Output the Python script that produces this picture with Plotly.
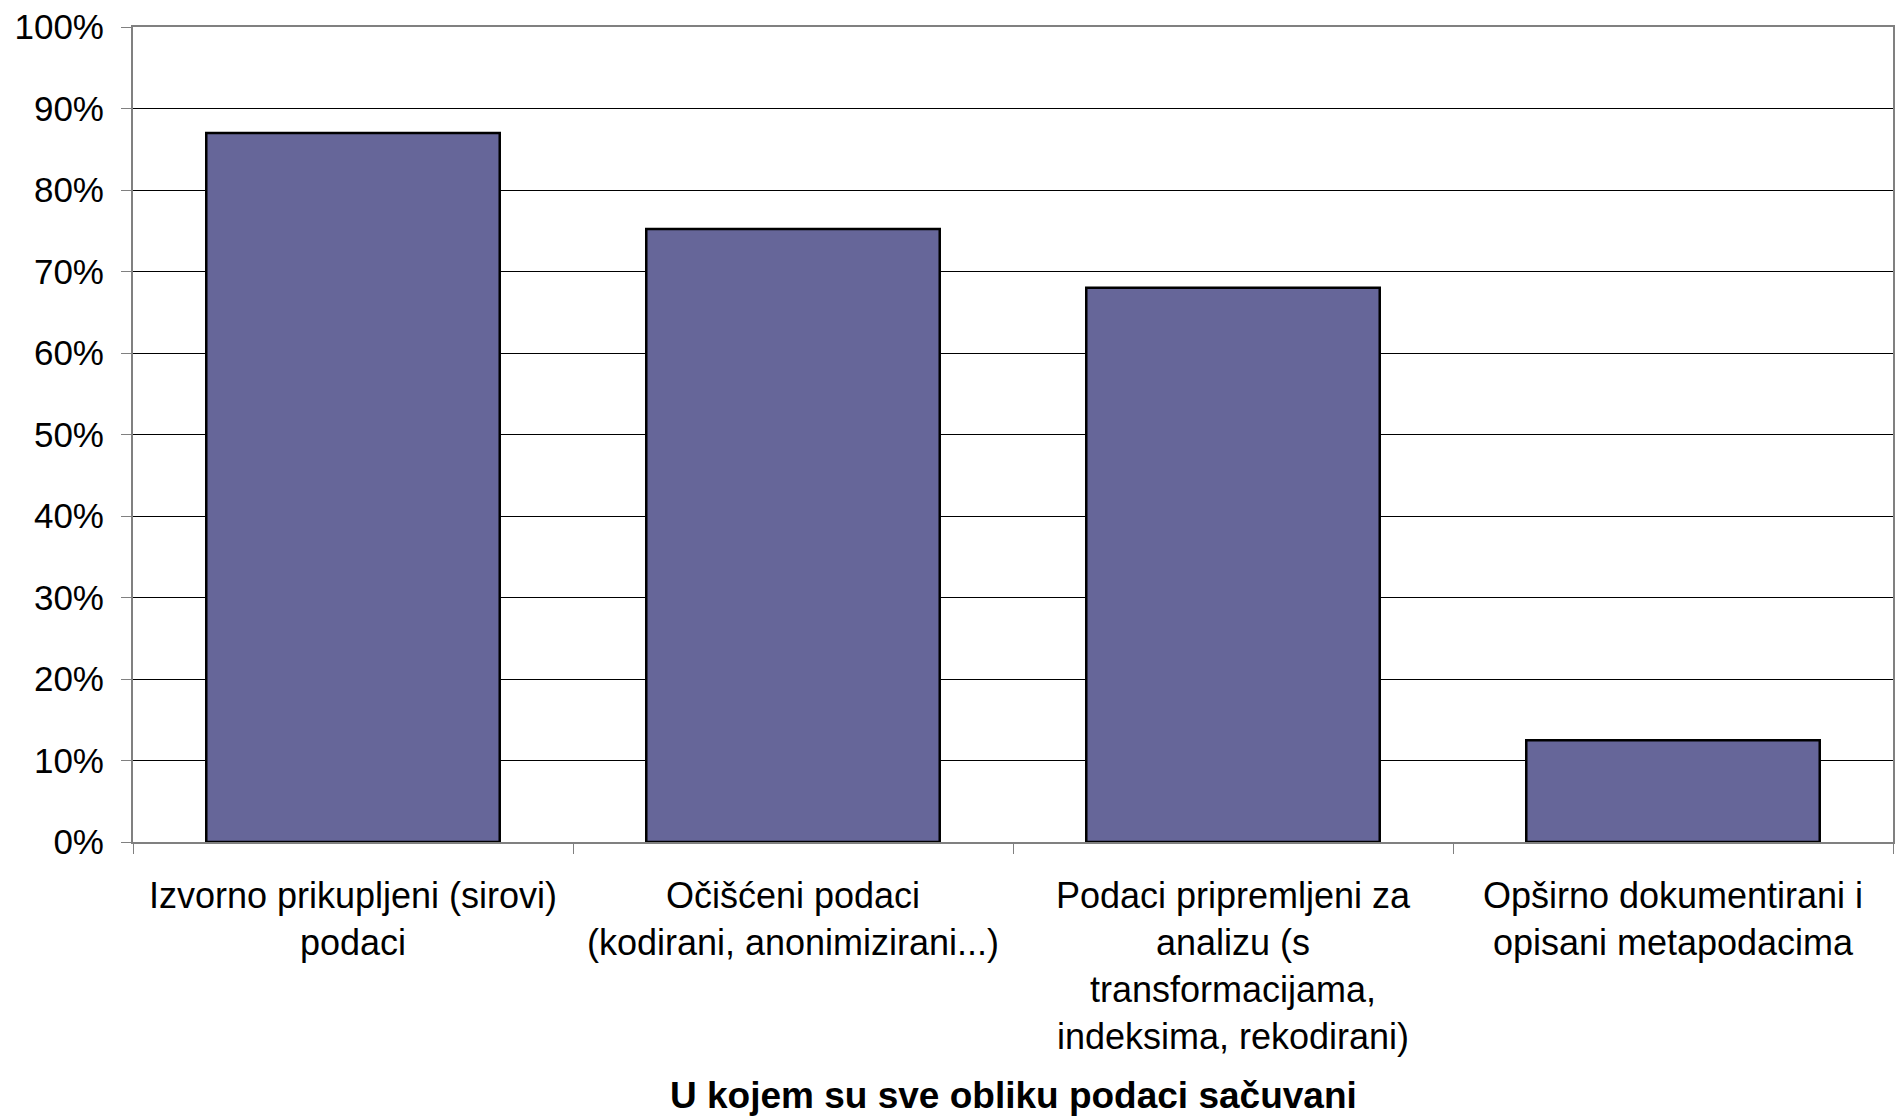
import plotly.graph_objects as go

categories = [
    "Izvorno prikupljeni (sirovi)<br>podaci",
    "Očišćeni podaci<br>(kodirani, anonimizirani...)",
    "Podaci pripremljeni za<br>analizu (s<br>transformacijama,<br>indeksima, rekodirani)",
    "Opširno dokumentirani i<br>opisani metapodacima",
]
values = [0.87, 0.752, 0.68, 0.125]
x_title = "U kojem su sve obliku podaci sačuvani"

fig = go.Figure(
    go.Bar(
        x=categories,
        y=values,
        marker=dict(color="#666699", line=dict(color="#000000", width=2.5)),
        width=0.667,
    )
)

FONT = "Liberation Sans, Arial, sans-serif"

fig.update_layout(
    width=1898,
    height=1117,
    margin=dict(l=133, r=3, t=27, b=275),
    paper_bgcolor="white",
    plot_bgcolor="white",
    font=dict(family=FONT, size=35, color="black"),
    showlegend=False,
    bargap=0.333,
)

fig.update_yaxes(
    range=[0, 1],
    dtick=0.1,
    tickformat=".0%",
    showgrid=True,
    gridcolor="#000000",
    gridwidth=1,
    ticks="outside",
    ticklen=10,
    tickcolor="#808080",
    showline=True,
    linecolor="#808080",
    linewidth=2,
    mirror=True,
    tickfont=dict(size=35),
    zeroline=False,
    ticklabelstandoff=10,
)

fig.update_xaxes(
    tickson="boundaries",
    ticks="outside",
    ticklen=10,
    tickcolor="#808080",
    showline=True,
    linecolor="#808080",
    linewidth=2,
    mirror=True,
    tickfont=dict(size=36),
    showgrid=False,
    ticklabelstandoff=21,
)

fig.add_annotation(
    text="<b>" + x_title + "</b>",
    xref="paper",
    yref="paper",
    x=0.5,
    y=-0.311,
    xanchor="center",
    yanchor="middle",
    showarrow=False,
    font=dict(size=37, family=FONT, color="black"),
)

fig.write_html(
    "out.html",
    config={"displayModeBar": False},
    post_script="document.body.style.margin='0';document.body.style.overflow='hidden';",
)
